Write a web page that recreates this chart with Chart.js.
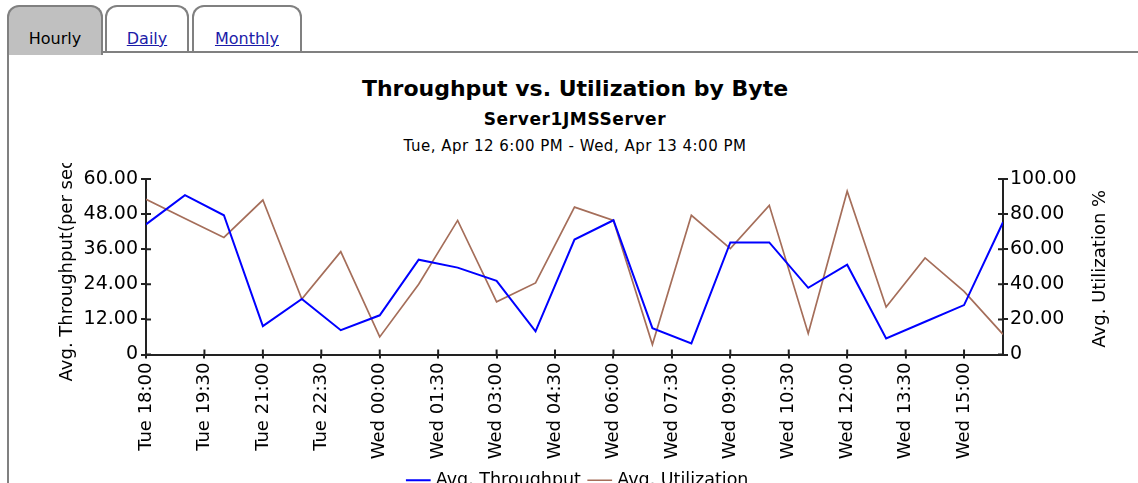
<!DOCTYPE html>
<html>
<head>
<meta charset="utf-8">
<script src="https://cdn.jsdelivr.net/npm/chart.js@4/dist/chart.umd.min.js"></script>
<style>
  body { margin: 0; width: 1138px; height: 483px; overflow: hidden; background: #fff; font-family: 'DejaVu Sans', sans-serif; position: relative; }
  .tab { position: absolute; top: 5px; height: 46px; border: 2px solid #808080; border-bottom: none; border-radius: 12px 12px 0 0; background: #fff; text-align: center; line-height: 64px; font-size: 16px; }
  .tab.active { background: #c0c0c0; height: 48px; z-index: 2; }
  .tab a { color: #1c1ca8; text-decoration: underline; }
  #tabLine { position: absolute; left: 103px; top: 51px; width: 1035px; height: 2px; background: #808080; }
  #panelLeft { position: absolute; left: 7px; top: 53px; width: 2px; height: 430px; background: #808080; }
  .head { position: absolute; left: 0; width: 1150px; text-align: center; color: #000; white-space: nowrap; }
  #chartBox { position: absolute; left: 0; top: 163px; width: 1158px; height: 336px; }
</style>
</head>
<body>
<div class="tab active" style="left:7px;width:92px;">Hourly</div>
<div class="tab" style="left:105px;width:80px;"><a>Daily</a></div>
<div class="tab" style="left:192px;width:106px;"><a>Monthly</a></div>
<div id="tabLine"></div>
<div id="panelLeft"></div>

<div class="head" style="top:76px;font-size:22px;font-weight:bold;">Throughput vs. Utilization by Byte</div>
<div class="head" style="top:109px;font-size:17px;font-weight:bold;letter-spacing:0.6px;">Server1JMSServer</div>
<div class="head" style="top:137px;font-size:15px;letter-spacing:0.5px;">Tue, Apr 12 6:00 PM - Wed, Apr 13 4:00 PM</div>

<div id="chartBox"><canvas id="chart"></canvas></div>

<script>
// hourly samples
const timeLabels = ['Tue 18:00', 'Tue 19:00', 'Tue 20:00', 'Tue 21:00', 'Tue 22:00', 'Tue 23:00',
  'Wed 00:00', 'Wed 01:00', 'Wed 02:00', 'Wed 03:00', 'Wed 04:00', 'Wed 05:00', 'Wed 06:00',
  'Wed 07:00', 'Wed 08:00', 'Wed 09:00', 'Wed 10:00', 'Wed 11:00', 'Wed 12:00', 'Wed 13:00',
  'Wed 14:00', 'Wed 15:00', 'Wed 16:00'];
const throughput = [44.5, 54.5, 47.6, 9.7, 19.0, 8.3, 13.4, 32.4, 29.7, 25.2, 7.9, 39.3,
  45.9, 9.0, 3.8, 38.3, 38.3, 22.8, 30.7, 5.5, 11.2, 16.9, 45.2];
const utilization = [88.5, 77.5, 66.7, 88.0, 31.6, 58.6, 10.0, 40.0, 76.4, 30.0, 40.8, 84.0,
  76.4, 5.7, 79.3, 60.3, 85.0, 12.0, 93.0, 27.0, 55.0, 36.0, 11.5];

// axis labels
const xTickLabels = ['Tue 18:00', 'Tue 19:30', 'Tue 21:00', 'Tue 22:30', 'Wed 00:00', 'Wed 01:30',
  'Wed 03:00', 'Wed 04:30', 'Wed 06:00', 'Wed 07:30', 'Wed 09:00', 'Wed 10:30', 'Wed 12:00',
  'Wed 13:30', 'Wed 15:00'];
const throughputTicks = ['0', '12.00', '24.00', '36.00', '48.00', '60.00'];
const utilizationTicks = ['0', '20.00', '40.00', '60.00', '80.00', '100.00'];

// hours since Tue 18:00
function toHours(label) {
  const parts = label.split(' ');
  const hm = parts[1].split(':');
  const day = parts[0] === 'Wed' ? 24 : 0;
  return day + Number(hm[0]) + Number(hm[1]) / 60 - 18;
}

function pickLabel(list, value) {
  const hit = list.find(l => Math.abs(parseFloat(l) - value) < 1e-6);
  return hit === undefined ? '' : hit;
}

const AXIS = '#222';
const FONT = 'DejaVu Sans';

// ticks in the reference cross the axis line, so draw the inner half too
const innerTicks = {
  id: 'innerTicks',
  afterDraw(chart) {
    const ctx = chart.ctx;
    const area = chart.chartArea;
    const len = 5;
    ctx.save();
    ctx.strokeStyle = AXIS;
    ctx.lineWidth = 2;
    ctx.beginPath();
    chart.scales.y.ticks.forEach(t => {
      const py = chart.scales.y.getPixelForValue(t.value);
      ctx.moveTo(area.left, py); ctx.lineTo(area.left + len, py);
    });
    chart.scales.y1.ticks.forEach(t => {
      const py = chart.scales.y1.getPixelForValue(t.value);
      ctx.moveTo(area.right, py); ctx.lineTo(area.right - len, py);
    });
    chart.scales.x.ticks.forEach(t => {
      const px = chart.scales.x.getPixelForValue(t.value);
      ctx.moveTo(px, area.bottom); ctx.lineTo(px, area.bottom - len);
    });
    ctx.stroke();

    // right axis title reads bottom-to-top
    ctx.fillStyle = '#000';
    ctx.font = '18px ' + FONT;
    ctx.textAlign = 'center';
    ctx.textBaseline = 'middle';
    ctx.translate(1100, (area.top + area.bottom) / 2 + 2);
    ctx.rotate(-Math.PI / 2);
    ctx.fillText('Avg. Utilization %', 0, 0);
    ctx.restore();
  }
};

Chart.defaults.font.family = FONT;
Chart.defaults.color = '#000';

new Chart(document.getElementById('chart'), {
  type: 'line',
  data: {
    datasets: [{
      label: 'Avg. Throughput',
      data: timeLabels.map((t, i) => ({ x: toHours(t), y: throughput[i] })),
      borderColor: '#0000ff',
      backgroundColor: '#0000ff',
      borderWidth: 2,
      pointRadius: 0,
      tension: 0,
      yAxisID: 'y'
    }, {
      label: 'Avg. Utilization',
      data: timeLabels.map((t, i) => ({ x: toHours(t), y: utilization[i] })),
      borderColor: '#a56e5a',
      backgroundColor: '#a56e5a',
      borderWidth: 1.7,
      pointRadius: 0,
      tension: 0,
      yAxisID: 'y1'
    }]
  },
  options: {
    responsive: true,
    maintainAspectRatio: false,
    animation: false,
    layout: { padding: { top: 16, left: 0, right: 0, bottom: 0 } },
    plugins: {
      tooltip: { enabled: false },
      legend: {
        position: 'bottom',
        labels: {
          usePointStyle: true,
          pointStyle: 'line',
          boxWidth: 18,
          padding: 10,
          font: { size: 17.5 },
          color: '#000'
        }
      }
    },
    scales: {
      x: {
        type: 'linear',
        min: toHours(timeLabels[0]),
        max: toHours(timeLabels[timeLabels.length - 1]),
        afterBuildTicks(scale) {
          scale.ticks = xTickLabels.map(l => ({ value: toHours(l) }));
        },
        ticks: {
          autoSkip: false,
          minRotation: 90,
          maxRotation: 90,
          padding: 4,
          font: { size: 18 },
          callback: (v) => xTickLabels.find(l => toHours(l) === v) || ''
        },
        grid: { drawOnChartArea: false, drawTicks: true, tickLength: 4, color: AXIS, lineWidth: 2 },
        border: { color: AXIS, width: 2 },
        afterFit(scale) { scale.height = 107; }
      },
      y: {
        position: 'left',
        min: 0,
        max: 60,
        ticks: {
          stepSize: 6,
          padding: 3,
          font: { size: 19 },
          callback: (v) => pickLabel(throughputTicks, v)
        },
        grid: { drawOnChartArea: false, drawTicks: true, tickLength: 5, color: AXIS, lineWidth: 2 },
        border: { color: AXIS, width: 2 },
        title: {
          display: true,
          text: 'Avg. Throughput(per sec)',
          font: { size: 18 },
          padding: { top: 57, bottom: 0 }
        },
        afterFit(scale) { scale.width = 146; }
      },
      y1: {
        position: 'right',
        min: 0,
        max: 100,
        ticks: {
          stepSize: 10,
          padding: 2,
          font: { size: 19 },
          callback: (v) => pickLabel(utilizationTicks, v)
        },
        grid: { drawOnChartArea: false, drawTicks: true, tickLength: 5, color: AXIS, lineWidth: 2 },
        border: { color: AXIS, width: 2 },
        afterFit(scale) { scale.width = 155; }
      }
    }
  },
  plugins: [innerTicks]
});
</script>
</body>
</html>
